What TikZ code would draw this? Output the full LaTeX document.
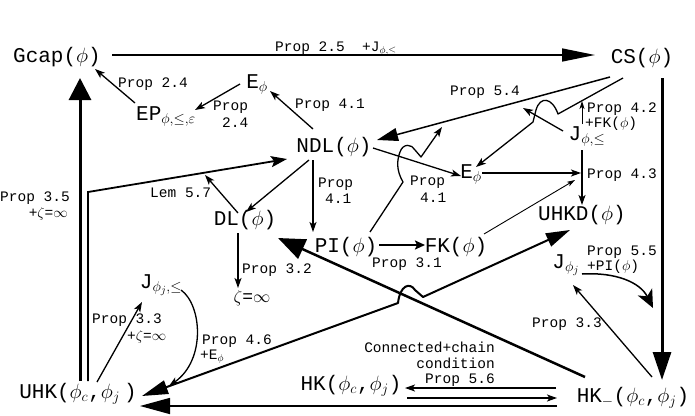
\documentclass[tikz,border=0pt]{standalone}
\usepackage{fontspec}
\setmainfont{Liberation Mono}
\usetikzlibrary{arrows.meta,calc}
\begin{document}
\begin{tikzpicture}[x=1pt,y=-1pt,
  nd/.style={font=\fontsize{21}{24}\selectfont, inner sep=0pt, anchor=base},
  lab/.style={font=\fontsize{14.5}{16}\selectfont, inner sep=0pt, anchor=base west},
  labr/.style={lab, anchor=base east},
  arr/.style={line width=1.3pt, line join=round, -{Stealth[length=10pt,width=7pt,inset=2.5pt]}},
  arrthin/.style={line width=0.9pt, -{Stealth[length=8pt,width=5pt,inset=2pt]}},
  bigline/.style={line width=3pt}
]
\useasboundingbox (0,0) rectangle (695,415);

% main nodes
\node[nd] (gcap) at (57,62) {Gcap($\phi$)};
\node[nd] (cs) at (642,63) {CS($\phi$)};
\node[nd] (ephi) at (257,88) {E$_\phi$};
\node[nd] (ep) at (166,120) {EP$_{\phi,\le,\varepsilon}$};
\node[nd] (ndl) at (334,152) {NDL($\phi$)};
\node[nd] (ephi2) at (471,178) {E$_\phi$};
\node[nd] (jphi) at (587,140) {J$_{\phi,\le}$};
\node[nd] (uhkd) at (582,220) {UHKD($\phi$)};
\node[nd] (dl) at (245,225) {DL($\phi$)};
\node[nd] (pi) at (346,252) {PI($\phi$)};
\node[nd] (fk) at (456,252) {FK($\phi$)};
\node[nd, font=\fontsize{18}{20}\selectfont] (zeta) at (252,302) {$\zeta$=$\infty$};
\node[nd] (jj) at (161,288) {J$_{\phi_j,\le}$};
\node[nd] (jpj) at (566,268) {J$_{\phi_j}$};
\node[nd] (uhk) at (78,398) {UHK($\phi_c$,$\phi_j$\hspace{4pt})};
\node[nd] (hk) at (351,390) {HK($\phi_c$,$\phi_j$)};
\node[nd] (hkm) at (633,402) {HK$_{-}$($\phi_c$,$\phi_j$)};

% labels
\node[lab] (l25) at (275,51) {Prop 2.5~~+J$_{\phi,\le}$};
\node[lab] (l24a) at (118,87) {Prop 2.4};
\node[lab] (l24b) at (213,110) {Prop};
\node[lab] (l24c) at (222,127) {2.4};
\node[lab] (l41a) at (295,108) {Prop 4.1};
\node[lab] (l54) at (450,95) {Prop 5.4};
\node[lab] (l42a) at (587,112) {Prop 4.2};
\node[lab] (l42b) at (585,127) {+FK($\phi$)};
\node[lab] (l43) at (587,178) {Prop 4.3};
\node[lab] (l41b) at (410,185) {Prop};
\node[lab] (l41c) at (420,202) {4.1};
\node[lab] (l41d) at (318,187) {Prop};
\node[lab] (l41e) at (325,203) {4.1};
\node[lab] (l57) at (150,197) {Lem 5.7};
\node[labr] (l35a) at (70,201) {Prop 3.5};
\node[labr] (l35b) at (68,217) {+$\zeta$=$\infty$};
\node[lab] (l32) at (242,273) {Prop 3.2};
\node[lab] (l31) at (372,267) {Prop 3.1};
\node[lab] (l33a) at (92,323) {Prop 3.3};
\node[lab] (l33b) at (127,340) {+$\zeta$=$\infty$};
\node[lab] (l46a) at (202,344) {Prop 4.6};
\node[lab] (l46b) at (200,359) {+E$_\phi$};
\node[lab] (l55a) at (587,255) {Prop 5.5};
\node[lab] (l55b) at (587,270) {+PI($\phi$)};
\node[lab] (l33c) at (532,327) {Prop 3.3};
\node[labr] (lc1) at (495,352) {Connected+chain};
\node[labr] (lc2) at (495,368) {condition};
\node[labr] (l56) at (495,383) {Prop 5.6};

% free ends (arrows pointing at arrows)
\coordinate (t54a) at (523,108);
\coordinate (t54b) at (442,127);
\coordinate (tce) at (582,101);
\coordinate (t43a) at (581,173);
\coordinate (t43b) at (575,180);
\coordinate (t57) at (205,175);
\coordinate (t35) at (653,308);

% connectors
\draw[line width=1.5pt, -{Triangle[length=33pt,width=13pt]}] ($(gcap.base)+(55,-7)$) -- ($(cs.base)+(-47,-8)$);
\draw[arr] ($(ep.base)+(-31,-17)$) -- ($(gcap.base)+(38,7)$);
\draw[arr] ($(ephi.base)+(-17,-4)$) -- ($(ep.base)+(29,-10)$);
\draw[arr] ($(ndl.base)+(-21,-23)$) -- ($(ephi.base)+(13,3)$);
\draw[line width=1.5pt, -{Triangle[length=21pt,width=13pt]}] ($(cs.base)+(-32,14)$) -- ($(ndl.base)+(43,-12)$);
\draw[arr] ($(cs.base)+(-19,15)$) -- (558,114) .. controls (552,97) and (540,96) .. (536,110) -- (533,122) -- ($(ephi2.base)+(5,-11)$);
\draw[arr] ($(jphi.base)+(-24,-9)$) -- (t54a);
\draw[arrthin] ($(jphi.base)+(-5,-16)$) -- (tce);
\draw[arr] ($(jphi.base)+(-5,10)$) -- ($(uhkd.base)+(0,-15)$);
\draw[arr] ($(ephi2.base)+(11,-5)$) -- (t43a);
\draw[arrthin] ($(fk.base)+(28,-18)$) -- (t43b);
\draw[arr] ($(ndl.base)+(39,-4)$) -- ($(ephi2.base)+(-10,-2)$);
\draw[arr] ($(pi.base)+(24,-20)$) -- (403,182) .. controls (396,170) and (397,160) .. (400,152) .. controls (403,143) and (412,144) .. (415,150) -- (421,157) -- (t54b);
\draw[line width=2.2pt, -{Stealth[length=10pt,width=9pt,inset=2pt]}] ($(pi.base)+(33,-7)$) -- ($(fk.base)+(-31,-7)$);
\draw[arr] ($(ndl.base)+(-21,8)$) -- ($(pi.base)+(-33,-20)$);
\draw[arr] ($(ndl.base)+(-25,8)$) -- ($(dl.base)+(1,-13)$);
\draw[arr] ($(dl.base)+(-7,-12)$) -- (t57);
\draw[line width=1.8pt, line join=miter, -{Stealth[length=16pt,width=11pt,inset=3pt]}] ($(uhk.base)+(10,-17)$) -- (88,192) -- ($(ndl.base)+(-47,7)$);
\draw[bigline, -{Triangle[length=22pt,width=22pt]}] ($(uhk.base)+(2,-17)$) -- ($(gcap.base)+(23,16)$);
\draw[arr] ($(dl.base)+(-7,8)$) -- ($(zeta.base)+(-14,-14)$);
\draw[arr] ($(uhk.base)+(19,-16)$) -- ($(jj.base)+(-19,14)$);
\draw[arr] ($(jj.base)+(20,2)$) .. controls (202,305) and (206,360) .. ($(uhk.base)+(91,-12)$);
\draw[line width=2pt, line join=round, {Triangle[length=26pt,width=14pt]}-{Triangle[length=24pt,width=14pt]}] ($(uhk.base)+(64,-2)$) -- (398,303) .. controls (400,285) and (410,282) .. (415,290) -- (423,297) -- ($(uhkd.base)+(-12,10)$);
\draw[line width=2.5pt, -{Triangle[length=27pt,width=21pt]}] ($(hkm.base)+(-48,-25)$) -- ($(pi.base)+(-68,-14)$);
\draw[line width=1.5pt, -{Triangle[length=30pt,width=16pt]}] ($(hkm.base)+(-76,4)$) -- ($(uhk.base)+(62,8)$);
\draw[arr] ($(hkm.base)+(-77,-14)$) -- ($(hk.base)+(54,-2)$);
\draw[arr] ($(hk.base)+(56,8)$) -- ($(hkm.base)+(-76,-4)$);
\draw[bigline, -{Triangle[length=28pt,width=18pt]}] ($(cs.base)+(20,15)$) -- ($(hkm.base)+(29,-22)$);
\draw[arr] ($(hkm.base)+(19,-25)$) -- ($(jpj.base)+(7,17)$);
\draw[line width=1.5pt, -{Stealth[length=18pt,width=16pt,inset=5pt]}] ($(jpj.base)+(16,6)$) .. controls (615,272) and (640,282) .. (t35);
\end{tikzpicture}
\end{document}
